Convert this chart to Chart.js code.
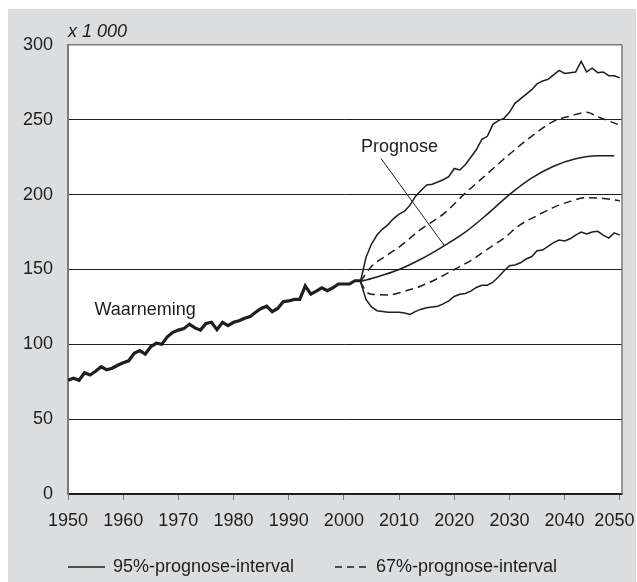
<!DOCTYPE html>
<html>
<head>
<meta charset="utf-8">
<script src="https://cdn.jsdelivr.net/npm/chart.js@4/dist/chart.umd.min.js"></script>
<style>
html,body{margin:0;padding:0;background:#fff;}
canvas{display:block;}
</style>
</head>
<body>
<canvas id="c" width="637" height="582"></canvas>
<script>
// ---- data (x 1 000) ----
const yTickValues = [0, 50, 100, 150, 200, 250, 300];
const xTickYears = [1950, 1960, 1970, 1980, 1990, 2000, 2010, 2020, 2030, 2040, 2050];

const observedStart = 1950;
const observed = [76, 77.3, 76, 81, 79.5, 82, 85, 83, 84, 86,
  87.7, 89, 94, 95.8, 93.5, 98.4, 100.7, 100, 105, 108,
  109.5, 110.5, 113.5, 111, 109.5, 114, 114.8, 109.8, 114.7, 112.5,
  114.7, 115.8, 117.4, 118.5, 121.4, 124, 125.5, 121.8, 124, 128.5,
  129, 130, 130, 139, 133.6, 135.6, 137.8, 135.8, 137.8, 140.3,
  140.3, 140.3, 142.5, 142.5];

const forecastStart = 2003;
const upper95 = [142, 158, 167, 173, 177, 180, 184, 187, 189, 193,
  199, 203, 206.5, 207, 208.5, 210, 212, 217.5, 216.5, 220,
  225, 230, 237, 239, 247, 249.5, 251, 255, 261, 264,
  267, 270, 274, 276, 277, 280, 283, 281, 281.5, 282,
  289, 282, 284.5, 281.5, 282, 279.5, 279.5, 278];
const lower95 = [142, 130, 125, 122.5, 122, 121.5, 121.5, 121.5, 121, 120,
  122, 123.5, 124.5, 125, 125.5, 127, 129, 132, 133.5, 134,
  135.5, 138, 139.5, 139.5, 141.5, 145, 149, 152.5, 153, 154.5,
  157, 158.5, 162.5, 163, 165.5, 168, 169.7, 169, 170.5, 173,
  175, 173.7, 175, 175.5, 173, 171, 174.5, 173];

const medianYears = [2003, 2006, 2010, 2014, 2018, 2022, 2026, 2030, 2034, 2038, 2042, 2046, 2049];
const median = [142, 145, 150, 157, 165.5, 175, 187, 200, 211, 219, 224, 226, 226];

const upper67Years = [2003, 2005, 2008, 2010, 2014, 2018, 2022, 2026, 2030, 2034, 2038, 2041, 2044, 2046, 2050];
const upper67 = [142, 152, 160, 165, 177, 187, 201, 214, 227, 239, 249, 252.5, 255, 252, 246.5];

const lower67Years = [2003, 2004, 2005, 2008, 2011, 2014, 2017, 2020, 2023, 2026, 2029, 2032, 2035, 2038, 2041, 2044, 2047, 2050];
const lower67 = [142, 135.5, 133.5, 133, 135.5, 139, 144, 150, 156, 163.5, 171, 180, 186, 191.5, 195.5, 198, 197.5, 196];

const labelObserved = 'Waarneming';
const labelForecast = 'Prognose';
const unitLabel = 'x 1 000';
const legend95 = '95%-prognose-interval';
const legend67 = '67%-prognose-interval';

// ---- build points ----
const seq = (start, vals) => vals.map((v, i) => ({x: start + i, y: v}));
const pair = (xs, vals) => vals.map((v, i) => ({x: xs[i], y: v}));

const FONT = '"Liberation Sans", Arial, Helvetica, sans-serif';
const INK = '#1e1e1e';
const FRAME = '#7a7a7a';
const BG = '#dcdddf';

const decor = {
  id: 'decor',
  beforeDraw(chart) {
    const ctx = chart.ctx, a = chart.chartArea;
    ctx.save();
    ctx.fillStyle = '#ffffff';
    ctx.fillRect(0, 0, chart.width, chart.height);
    ctx.fillStyle = BG;
    ctx.fillRect(8, 9, chart.width - 9, chart.height - 9);
    ctx.fillStyle = '#ffffff';
    ctx.fillRect(a.left, a.top, a.right - a.left, a.bottom - a.top);
    ctx.restore();
  },
  afterDraw(chart) {
    const ctx = chart.ctx, a = chart.chartArea;
    const xs = chart.scales.x, ys = chart.scales.y;
    ctx.save();
    // right frame
    ctx.strokeStyle = FRAME;
    ctx.lineWidth = 1.5;
    ctx.beginPath();
    ctx.moveTo(a.right, a.top);
    ctx.lineTo(a.right, a.bottom);
    ctx.stroke();
    // unit label
    ctx.fillStyle = INK;
    ctx.font = 'italic 18px ' + FONT;
    ctx.textBaseline = 'middle';
    ctx.textAlign = 'left';
    ctx.fillText(unitLabel, a.left, 31.5);
    // annotations
    ctx.font = '18px ' + FONT;
    ctx.fillText(labelObserved, xs.getPixelForValue(1954.8), ys.getPixelForValue(122.6));
    ctx.fillText(labelForecast, xs.getPixelForValue(2003.1), ys.getPixelForValue(231.8));
    ctx.strokeStyle = INK;
    ctx.lineWidth = 1;
    ctx.beginPath();
    ctx.moveTo(xs.getPixelForValue(2006.7), ys.getPixelForValue(224.3));
    ctx.lineTo(xs.getPixelForValue(2018.2), ys.getPixelForValue(166));
    ctx.stroke();
    // legend
    const ly = 567;
    ctx.lineWidth = 1.5;
    ctx.beginPath();
    ctx.moveTo(68, ly); ctx.lineTo(105, ly);
    ctx.stroke();
    ctx.fillText(legend95, 113, ly);
    ctx.setLineDash([7, 5]);
    ctx.beginPath();
    ctx.moveTo(335, ly); ctx.lineTo(366, ly);
    ctx.stroke();
    ctx.setLineDash([]);
    ctx.fillText(legend67, 376, ly);
    ctx.restore();
  }
};

const thin = {borderColor: INK, borderWidth: 1.5, pointRadius: 0, fill: false};
const lastYear = xTickYears[xTickYears.length - 1];

new Chart(document.getElementById('c'), {
  type: 'line',
  data: {
    datasets: [
      Object.assign({label: '95% hoog', data: seq(forecastStart, upper95), tension: 0}, thin),
      Object.assign({label: '95% laag', data: seq(forecastStart, lower95), tension: 0}, thin),
      Object.assign({label: '67% hoog', data: pair(upper67Years, upper67), borderDash: [8, 5], cubicInterpolationMode: 'monotone'}, thin),
      Object.assign({label: '67% laag', data: pair(lower67Years, lower67), borderDash: [8, 5], cubicInterpolationMode: 'monotone'}, thin),
      Object.assign({label: 'Prognose', data: pair(medianYears, median), cubicInterpolationMode: 'monotone'}, thin),
      {label: labelObserved, data: seq(observedStart, observed), borderColor: INK, borderWidth: 3.2, pointRadius: 0, tension: 0, borderJoinStyle: 'miter', fill: false}
    ]
  },
  options: {
    responsive: false,
    animation: false,
    devicePixelRatio: 1,
    layout: {autoPadding: false, padding: {left: 0, right: 15, top: 45, bottom: 0}},
    plugins: {legend: {display: false}, tooltip: {enabled: false}},
    scales: {
      x: {
        type: 'linear',
        min: 1950,
        max: 2050.4,
        afterBuildTicks(s) { s.ticks = xTickYears.map(v => ({value: v})); },
        afterFit(s) { s.height = 88; s.paddingLeft = 0; s.paddingRight = 0; },
        ticks: {
          callback: v => v === lastYear ? String(v) + '\u2009\u2009\u2009' : String(v),
          color: INK,
          font: {family: FONT, size: 18},
          padding: 10,
          maxRotation: 0,
          autoSkip: false
        },
        grid: {drawOnChartArea: false, drawTicks: true, tickLength: 6, color: FRAME, lineWidth: 1},
        border: {color: INK, width: 1.5}
      },
      y: {
        min: 0,
        max: 300,
        afterBuildTicks(s) { s.ticks = yTickValues.map(v => ({value: v})); },
        afterFit(s) { s.width = 68; s.paddingTop = 0; s.paddingBottom = 0; },
        ticks: {
          callback: v => String(v),
          color: INK,
          font: {family: FONT, size: 18},
          padding: 15
        },
        grid: {
          drawTicks: false,
          color: c => (c.tick && c.tick.value === 300) ? FRAME : INK,
          lineWidth: c => (c.tick && c.tick.value === 300) ? 1.5 : 1
        },
        border: {color: FRAME, width: 2}
      }
    }
  },
  plugins: [decor]
});
</script>
</body>
</html>
